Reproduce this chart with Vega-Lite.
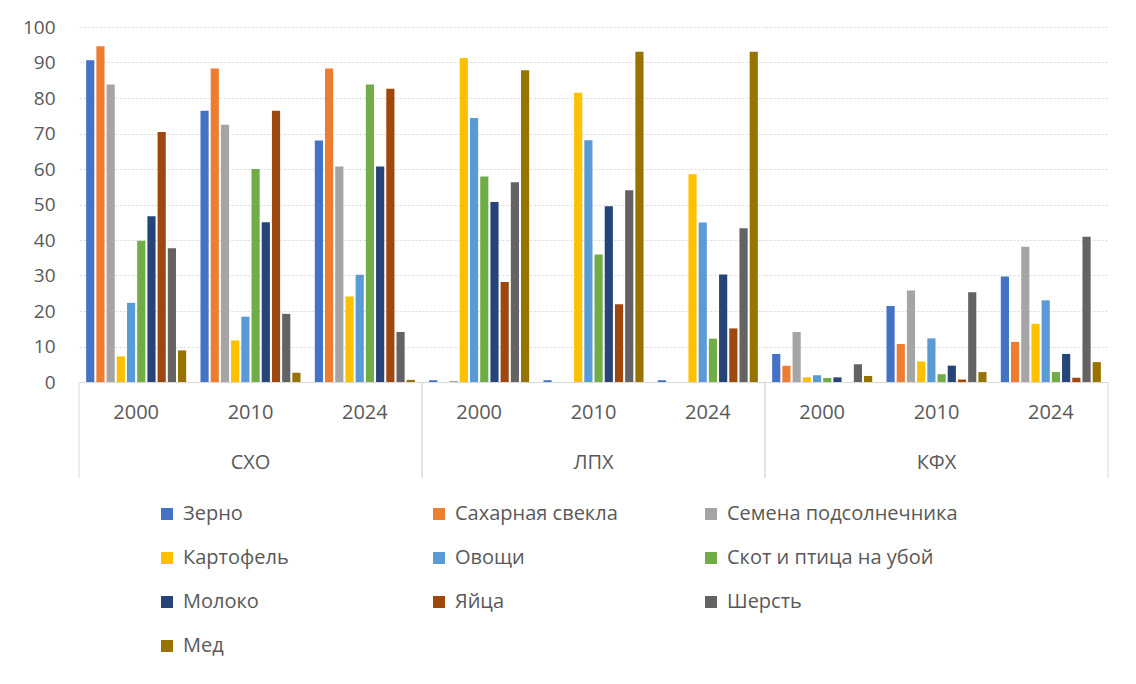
{
  "$schema": "https://vega.github.io/schema/vega-lite/v6.json",
  "padding": {"left": 22, "top": 18, "right": 26, "bottom": 5},
  "background": "white",
  "config": {
    "view": {"stroke": null},
    "font": "Open Sans",
    "axis": {"labelColor": "#595959", "labelFontSize": 20, "ticks": false, "title": null, "labelOverlap": false, "labelSeparation": 0}
  },
  "data": {
    "values": [
      {"g": "СХО", "y": "2000", "p": "Зерно", "v": 90.6},
      {"g": "СХО", "y": "2000", "p": "Сахарная свекла", "v": 94.6},
      {"g": "СХО", "y": "2000", "p": "Семена подсолнечника", "v": 83.8},
      {"g": "СХО", "y": "2000", "p": "Картофель", "v": 7.2},
      {"g": "СХО", "y": "2000", "p": "Овощи", "v": 22.3},
      {"g": "СХО", "y": "2000", "p": "Скот и птица на убой", "v": 39.8},
      {"g": "СХО", "y": "2000", "p": "Молоко", "v": 46.7},
      {"g": "СХО", "y": "2000", "p": "Яйца", "v": 70.4},
      {"g": "СХО", "y": "2000", "p": "Шерсть", "v": 37.7},
      {"g": "СХО", "y": "2000", "p": "Мед", "v": 8.9},
      {"g": "СХО", "y": "2010", "p": "Зерно", "v": 76.4},
      {"g": "СХО", "y": "2010", "p": "Сахарная свекла", "v": 88.3},
      {"g": "СХО", "y": "2010", "p": "Семена подсолнечника", "v": 72.5},
      {"g": "СХО", "y": "2010", "p": "Картофель", "v": 11.7},
      {"g": "СХО", "y": "2010", "p": "Овощи", "v": 18.4},
      {"g": "СХО", "y": "2010", "p": "Скот и птица на убой", "v": 60.0},
      {"g": "СХО", "y": "2010", "p": "Молоко", "v": 45.0},
      {"g": "СХО", "y": "2010", "p": "Яйца", "v": 76.4},
      {"g": "СХО", "y": "2010", "p": "Шерсть", "v": 19.2},
      {"g": "СХО", "y": "2010", "p": "Мед", "v": 2.6},
      {"g": "СХО", "y": "2024", "p": "Зерно", "v": 68.0},
      {"g": "СХО", "y": "2024", "p": "Сахарная свекла", "v": 88.3},
      {"g": "СХО", "y": "2024", "p": "Семена подсолнечника", "v": 60.7},
      {"g": "СХО", "y": "2024", "p": "Картофель", "v": 24.1},
      {"g": "СХО", "y": "2024", "p": "Овощи", "v": 30.2},
      {"g": "СХО", "y": "2024", "p": "Скот и птица на убой", "v": 83.8},
      {"g": "СХО", "y": "2024", "p": "Молоко", "v": 60.7},
      {"g": "СХО", "y": "2024", "p": "Яйца", "v": 82.6},
      {"g": "СХО", "y": "2024", "p": "Шерсть", "v": 14.1},
      {"g": "СХО", "y": "2024", "p": "Мед", "v": 0.6},
      {"g": "ЛПХ", "y": "2000", "p": "Зерно", "v": 0.5},
      {"g": "ЛПХ", "y": "2000", "p": "Сахарная свекла", "v": 0},
      {"g": "ЛПХ", "y": "2000", "p": "Семена подсолнечника", "v": 0.3},
      {"g": "ЛПХ", "y": "2000", "p": "Картофель", "v": 91.3},
      {"g": "ЛПХ", "y": "2000", "p": "Овощи", "v": 74.4},
      {"g": "ЛПХ", "y": "2000", "p": "Скот и птица на убой", "v": 57.9},
      {"g": "ЛПХ", "y": "2000", "p": "Молоко", "v": 50.7},
      {"g": "ЛПХ", "y": "2000", "p": "Яйца", "v": 28.2},
      {"g": "ЛПХ", "y": "2000", "p": "Шерсть", "v": 56.3},
      {"g": "ЛПХ", "y": "2000", "p": "Мед", "v": 87.8},
      {"g": "ЛПХ", "y": "2010", "p": "Зерно", "v": 0.5},
      {"g": "ЛПХ", "y": "2010", "p": "Сахарная свекла", "v": 0},
      {"g": "ЛПХ", "y": "2010", "p": "Семена подсолнечника", "v": 0},
      {"g": "ЛПХ", "y": "2010", "p": "Картофель", "v": 81.5},
      {"g": "ЛПХ", "y": "2010", "p": "Овощи", "v": 68.1},
      {"g": "ЛПХ", "y": "2010", "p": "Скот и птица на убой", "v": 35.9},
      {"g": "ЛПХ", "y": "2010", "p": "Молоко", "v": 49.5},
      {"g": "ЛПХ", "y": "2010", "p": "Яйца", "v": 21.9},
      {"g": "ЛПХ", "y": "2010", "p": "Шерсть", "v": 54.0},
      {"g": "ЛПХ", "y": "2010", "p": "Мед", "v": 93.0},
      {"g": "ЛПХ", "y": "2024", "p": "Зерно", "v": 0.5},
      {"g": "ЛПХ", "y": "2024", "p": "Сахарная свекла", "v": 0},
      {"g": "ЛПХ", "y": "2024", "p": "Семена подсолнечника", "v": 0},
      {"g": "ЛПХ", "y": "2024", "p": "Картофель", "v": 58.5},
      {"g": "ЛПХ", "y": "2024", "p": "Овощи", "v": 44.9},
      {"g": "ЛПХ", "y": "2024", "p": "Скот и птица на убой", "v": 12.2},
      {"g": "ЛПХ", "y": "2024", "p": "Молоко", "v": 30.3},
      {"g": "ЛПХ", "y": "2024", "p": "Яйца", "v": 15.1},
      {"g": "ЛПХ", "y": "2024", "p": "Шерсть", "v": 43.3},
      {"g": "ЛПХ", "y": "2024", "p": "Мед", "v": 93.0},
      {"g": "КФХ", "y": "2000", "p": "Зерно", "v": 7.9},
      {"g": "КФХ", "y": "2000", "p": "Сахарная свекла", "v": 4.6},
      {"g": "КФХ", "y": "2000", "p": "Семена подсолнечника", "v": 14.1},
      {"g": "КФХ", "y": "2000", "p": "Картофель", "v": 1.3},
      {"g": "КФХ", "y": "2000", "p": "Овощи", "v": 1.9},
      {"g": "КФХ", "y": "2000", "p": "Скот и птица на убой", "v": 1.1},
      {"g": "КФХ", "y": "2000", "p": "Молоко", "v": 1.3},
      {"g": "КФХ", "y": "2000", "p": "Яйца", "v": 0},
      {"g": "КФХ", "y": "2000", "p": "Шерсть", "v": 5.0},
      {"g": "КФХ", "y": "2000", "p": "Мед", "v": 1.7},
      {"g": "КФХ", "y": "2010", "p": "Зерно", "v": 21.4},
      {"g": "КФХ", "y": "2010", "p": "Сахарная свекла", "v": 10.7},
      {"g": "КФХ", "y": "2010", "p": "Семена подсолнечника", "v": 25.8},
      {"g": "КФХ", "y": "2010", "p": "Картофель", "v": 5.8},
      {"g": "КФХ", "y": "2010", "p": "Овощи", "v": 12.3},
      {"g": "КФХ", "y": "2010", "p": "Скот и птица на убой", "v": 2.2},
      {"g": "КФХ", "y": "2010", "p": "Молоко", "v": 4.6},
      {"g": "КФХ", "y": "2010", "p": "Яйца", "v": 0.7},
      {"g": "КФХ", "y": "2010", "p": "Шерсть", "v": 25.3},
      {"g": "КФХ", "y": "2010", "p": "Мед", "v": 2.8},
      {"g": "КФХ", "y": "2024", "p": "Зерно", "v": 29.7},
      {"g": "КФХ", "y": "2024", "p": "Сахарная свекла", "v": 11.3},
      {"g": "КФХ", "y": "2024", "p": "Семена подсолнечника", "v": 38.1},
      {"g": "КФХ", "y": "2024", "p": "Картофель", "v": 16.4},
      {"g": "КФХ", "y": "2024", "p": "Овощи", "v": 23.0},
      {"g": "КФХ", "y": "2024", "p": "Скот и птица на убой", "v": 2.8},
      {"g": "КФХ", "y": "2024", "p": "Молоко", "v": 7.9},
      {"g": "КФХ", "y": "2024", "p": "Яйца", "v": 1.2},
      {"g": "КФХ", "y": "2024", "p": "Шерсть", "v": 40.9},
      {"g": "КФХ", "y": "2024", "p": "Мед", "v": 5.6}
    ]
  },
  "facet": {
    "column": {
      "field": "g", "type": "nominal", "sort": ["СХО", "ЛПХ", "КФХ"],
      "header": {"title": null, "labelOrient": "bottom", "labelFontSize": 20, "labelColor": "#595959", "labelPadding": 31}
    }
  },
  "spacing": 0,
  "bounds": "flush",
  "spec": {
    "width": 343,
    "height": 355,
    "layer": [
      {
        "mark": {"type": "bar"},
        "encoding": {
          "x": {
            "field": "y", "type": "nominal",
            "scale": {"paddingInner": 0, "paddingOuter": 0},
            "axis": {"labelAngle": 0, "labelPadding": 20, "domainColor": "#d9d9d9", "grid": false}
          },
          "xOffset": {
            "field": "p", "type": "nominal",
            "sort": ["Зерно", "Сахарная свекла", "Семена подсолнечника", "Картофель", "Овощи", "Скот и птица на убой", "Молоко", "Яйца", "Шерсть", "Мед"],
            "scale": {"paddingInner": 0.2, "paddingOuter": 0.7}
          },
          "y": {
            "field": "v", "type": "quantitative",
            "scale": {"domain": [0, 100], "nice": false},
            "axis": {"values": [0, 10, 20, 30, 40, 50, 60, 70, 80, 90, 100], "tickCount": 11, "labelOverlap": false, "labelFontSize": 19, "labelPadding": 24, "domain": false, "gridColor": "#d9d9d9", "gridDash": [2, 2]}
          },
          "color": {
            "field": "p", "type": "nominal",
            "sort": ["Зерно", "Сахарная свекла", "Семена подсолнечника", "Картофель", "Овощи", "Скот и птица на убой", "Молоко", "Яйца", "Шерсть", "Мед"],
            "scale": {"range": ["#4472C4", "#ED7D31", "#A5A5A5", "#FFC000", "#5B9BD5", "#70AD47", "#264478", "#9E480E", "#636363", "#997300"]},
            "legend": {
              "orient": "none", "legendX": 78, "legendY": 477, "title": null,
              "direction": "horizontal",
              "columns": 3, "gridAlign": "all", "columnPadding": 15, "rowPadding": 24,
              "symbolType": "square", "symbolSize": 144, "symbolStrokeWidth": 0,
              "labelFontSize": 20, "labelColor": "#595959", "labelOffset": 6, "labelLimit": 400
            }
          }
        }
      },
      {
        "transform": [{"filter": "datum.p === 'Зерно' && datum.y === '2000'"}],
        "mark": {"type": "rule", "color": "#d9d9d9"},
        "encoding": {
          "x": {"datum": "2000", "bandPosition": 0},
          "y": {"datum": 0},
          "y2": {"datum": -27}
        }
      },
      {
        "transform": [{"filter": "datum.p === 'Зерно' && datum.y === '2000'"}],
        "mark": {"type": "rule", "color": "#d9d9d9"},
        "encoding": {
          "x": {"datum": "2024", "bandPosition": 1},
          "y": {"datum": 0},
          "y2": {"datum": -27}
        }
      }
    ]
  }
}
